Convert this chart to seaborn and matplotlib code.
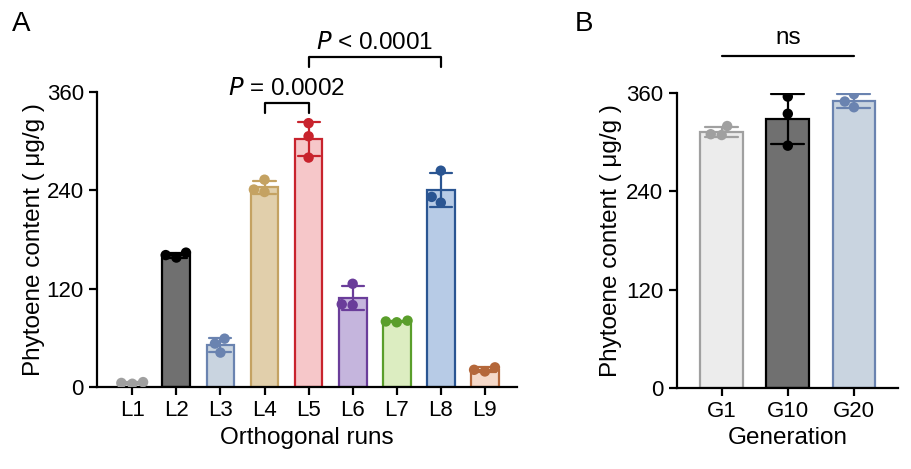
import matplotlib
matplotlib.use("Agg")
import matplotlib.pyplot as plt
import seaborn as sns
import pandas as pd
import numpy as np

# panel A data (three replicates per run)
runs = ["L1", "L2", "L3", "L4", "L5", "L6", "L7", "L8", "L9"]
rep1 = [4, 158, 59, 253, 322, 126, 80, 264, 19]
rep2 = [6, 164, 53, 241, 306, 100, 81, 225, 24]
rep3 = [5, 161, 42, 238, 280, 101, 79, 232, 21]

fill_a = ["#ececec", "#707070", "#c9d4e0", "#e1cfab", "#f6c7c9",
          "#c5b5dd", "#dcedc1", "#b7cbe6", "#f5d9c9"]
edge_a = ["#a0a0a0", "#000000", "#6a83b0", "#c4a262", "#c8232d",
          "#6a3d9a", "#5a9e2b", "#2a5592", "#b4673a"]

# panel B data
gens = ["G1", "G10", "G20"]
gen1 = [320, 356, 359]
gen2 = [310, 335, 350]
gen3 = [309, 296, 343]

fill_b = ["#ececec", "#707070", "#c9d4e0"]
edge_b = ["#a0a0a0", "#000000", "#6a83b0"]

yticks = [0, 120, 240, 360]
FS = 17.5


def to_long(cats, *reps):
    rows = []
    for r in reps:
        for c, v in zip(cats, r):
            rows.append({"cat": c, "val": v})
    return pd.DataFrame(rows)


def draw_panel(ax, df, cats, fills, edges, width, pad):
    sns.barplot(data=df, x="cat", y="val", hue="cat", order=cats,
                hue_order=cats, palette=fills, errorbar="sd", capsize=0.5,
                err_kws={"linewidth": 1.6}, width=width, legend=False,
                saturation=1, ax=ax)
    for p, ec in zip(ax.patches, edges):
        p.set_edgecolor(ec)
        p.set_linewidth(1.6)
    for ln, ec in zip(ax.lines, edges):
        ln.set_color(ec)
        ln.set_zorder(3)
    sns.swarmplot(data=df, x="cat", y="val", hue="cat", order=cats,
                  hue_order=cats, palette=edges, size=7.5, legend=False,
                  zorder=4, ax=ax)
    ax.set_ylim(0, 360)
    ax.set_yticks(yticks)
    sns.despine(ax=ax)
    for s in ["left", "bottom"]:
        ax.spines[s].set_linewidth(1.6)
        ax.spines[s].set_color("black")
    ax.tick_params(width=1.6, length=6, labelsize=16, color="black",
                   labelcolor="black")
    ax.set_ylabel("Phytoene content ( μg/g )", fontsize=FS, labelpad=pad)


sns.set_style("ticks")
plt.rcParams["font.family"] = ["Liberation Sans", "DejaVu Sans"]
plt.rcParams["text.color"] = "black"
plt.rcParams["axes.labelcolor"] = "black"

fig = plt.figure(figsize=(9.11, 4.69), dpi=100)
ax1 = fig.add_axes([0.1065, 0.1748, 0.4606, 0.629])
ax2 = fig.add_axes([0.7428, 0.1733, 0.2432, 0.6277])

df_a = to_long(runs, rep1, rep2, rep3)
draw_panel(ax1, df_a, runs, fill_a, edge_a, 0.63, 1)
ax1.set_xlim(-0.8, 8.72)
ax1.set_xlabel("Orthogonal runs", fontsize=FS)

df_b = to_long(gens, gen1, gen2, gen3)
draw_panel(ax2, df_b, gens, fill_b, edge_b, 0.645, 3)
ax2.set_xlim(-0.68, 2.67)
ax2.set_xlabel("Generation", fontsize=FS)

# significance brackets
lw = 1.6
ax1.plot([3, 3, 4, 4], [334, 346, 346, 334], color="black", lw=lw, clip_on=False)
ax1.text(3.5, 350, "$\\mathit{P}$ = 0.0002", ha="center", va="bottom", fontsize=FS)
ax1.plot([4, 4, 7, 7], [391, 403, 403, 391], color="black", lw=lw, clip_on=False)
ax1.text(5.5, 407, "$\\mathit{P}$ < 0.0001", ha="center", va="bottom", fontsize=FS)

ax2.plot([0, 2], [406, 406], color="black", lw=lw, clip_on=False)
ax2.text(1, 414, "ns", ha="center", va="bottom", fontsize=FS)

fig.text(0.013, 0.922, "A", fontsize=20, va="bottom")
fig.text(0.631, 0.922, "B", fontsize=20, va="bottom")

fig.savefig("out.png", dpi=100)
